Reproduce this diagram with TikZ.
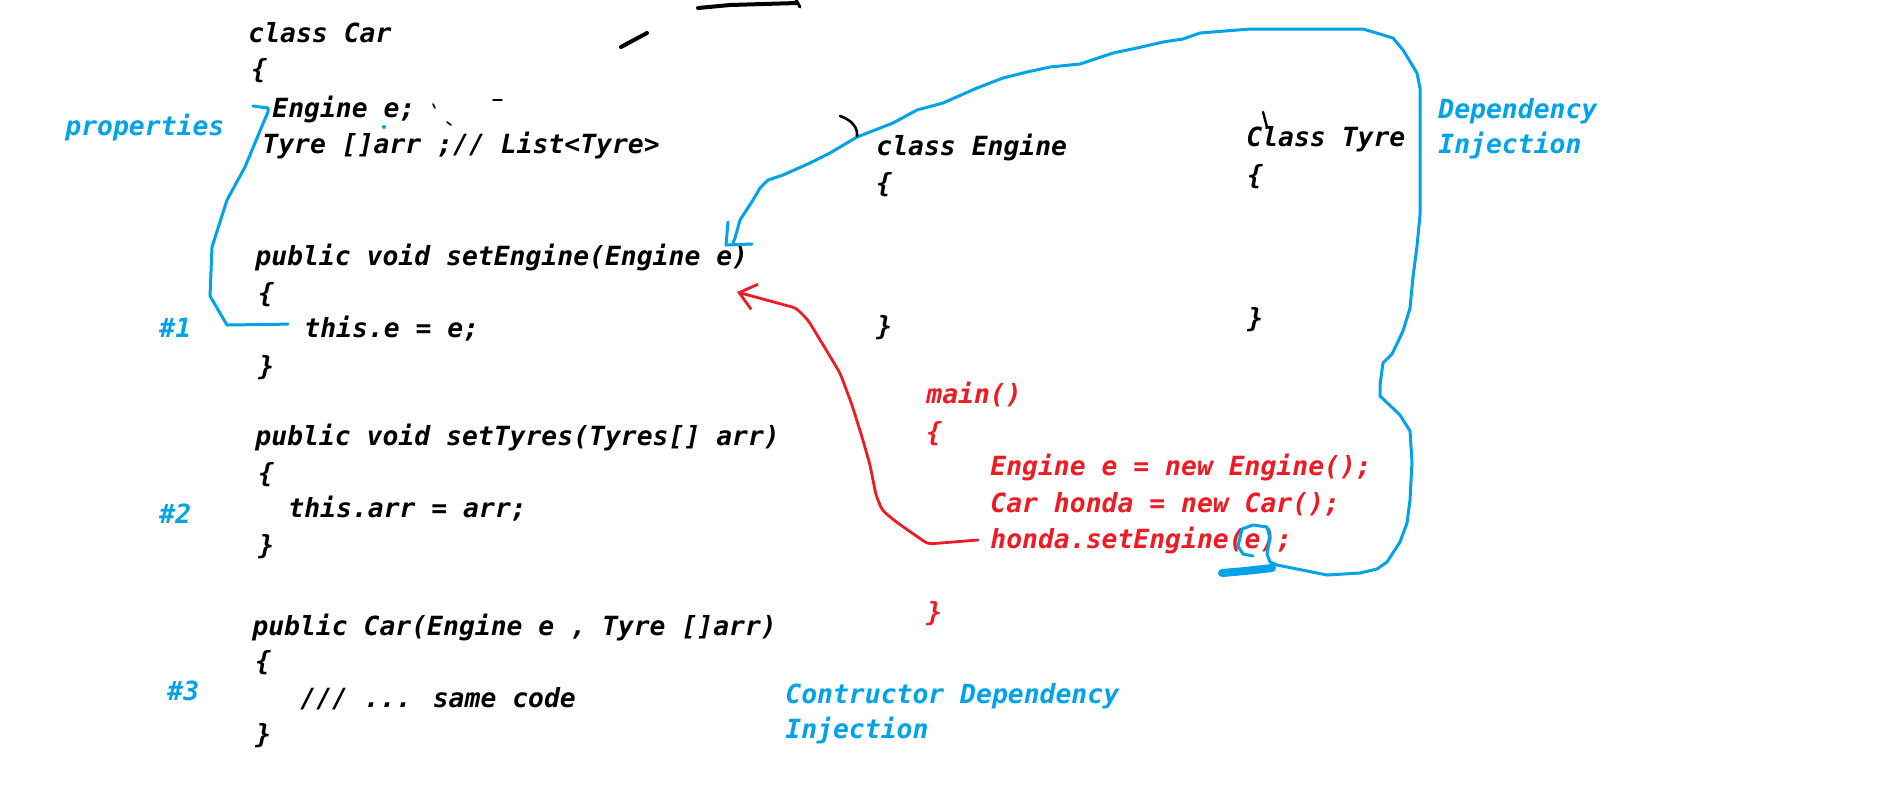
\documentclass[tikz,border=0pt]{standalone}
\usepackage{fontspec}
\newfontfamily\codefont{DejaVu Sans Mono Bold Oblique}
\usetikzlibrary{arrows.meta,calc}
\definecolor{PaintBlue}{RGB}{0,162,232}
\definecolor{PaintRed}{RGB}{237,28,36}
\tikzset{
  code/.style={font=\codefont\fontsize{13.2}{16}\selectfont,anchor=base west,inner sep=0pt,text=black},
  redcode/.style={code,text=PaintRed},
  bluenote/.style={code,text=PaintBlue},
  bluepen/.style={draw=PaintBlue,line width=1.5pt,line join=round,line cap=round},
  redpen/.style={draw=PaintRed,line width=1.4pt,line join=round,line cap=round},
  blackpen/.style={draw=black,line width=1.5pt,line cap=round}
}
\begin{document}
\begin{tikzpicture}[x=0.5pt,y=-0.5pt]
  \useasboundingbox[fill=white] (0,0) rectangle (1900,810);
  % class Car
  \node[code] (carHead) at (248,42) {class Car};
  \node[code] (carOpen) at (251,78) {\{};
  \node[code] (engField) at (272,117) {Engine e;};
  \node[code] (tyreField) at (262,153) {Tyre []arr ;// List<Tyre>};
  \node[code] (setEng) at (255,265) {public void setEngine(Engine e)};
  \node[code] (setEngOpen) at (258,302) {\{};
  \node[code] (setEngBody) at (304,337) {this.e = e;};
  \node[code] (setEngClose) at (258,375) {\}};
  \node[code] (setTyr) at (255,445) {public void setTyres(Tyres[] arr)};
  \node[code] (setTyrOpen) at (258,482) {\{};
  \node[code] (setTyrBody) at (288,517) {this.arr = arr;};
  \node[code] (setTyrClose) at (258,554) {\}};
  \node[code] (ctor) at (252,635) {public Car(Engine e , Tyre []arr)};
  \node[code] (ctorOpen) at (255,670) {\{};
  \node[code] (ctorBody) at (300,707) {/// ... same code};
  \node[code] (ctorClose) at (255,743) {\}};
  % other classes
  \node[code] (engineHead) at (876,155) {class Engine};
  \node[code] (engineOpen) at (876,192) {\{};
  \node[code] (engineClose) at (876,335) {\}};
  \node[code] (tyreHead) at (1246,146) {Class Tyre};
  \node[code] (tyreOpen) at (1247,184) {\{};
  \node[code] (tyreClose) at (1247,327) {\}};
  % main
  \node[redcode] (mainHead) at (926,403) {main()};
  \node[redcode] (mainOpen) at (926,441) {\{};
  \node[redcode] (mainEngine) at (990,475) {Engine e = new Engine();};
  \node[redcode] (mainCar) at (990,512) {Car honda = new Car();};
  \node[redcode] (mainCall) at (990,548) {honda.setEngine(e);};
  \node[redcode] (mainClose) at (926,621) {\}};
  % notes
  \node[bluenote] (lblProps) at (65,135) {properties};
  \node[bluenote] (lblOne) at (159,337) {\#1};
  \node[bluenote] (lblTwo) at (159,523) {\#2};
  \node[bluenote] (lblThree) at (167,700) {\#3};
  \node[bluenote] (lblDIa) at (1438,118) {Dependency};
  \node[bluenote] (lblDIb) at (1438,153) {Injection};
  \node[bluenote] (lblCDIa) at (785,703) {Contructor Dependency};
  \node[bluenote] (lblCDIb) at (785,738) {Injection};

  \coordinate (propTip) at (268,112);
  \coordinate (engTip) at (737,292);
  \coordinate (eLoop) at (1253,556);
  \coordinate (setEngMark) at (733,243);

  % #1 -> property
  \draw[bluepen] ([xshift=-8pt,yshift=2pt]setEngBody.west) -- (227,325) -- (210,296) -- (212,247)
    -- (227,200) -- (245,167) -- (262,126) -- (propTip) -- (268,108) -- (253,106);
  % main -> setEngine
  \draw[redpen,rounded corners=2pt,-{Straight Barb[length=8pt,width=13pt]}] ([xshift=-6pt]mainCall.west)
    -- (928,544) -- (912,533) -- (895,521) -- (882,510) -- (876,495) -- (870,465) -- (862,437)
    -- (852,405) -- (840,373) -- (825,348) -- (808,320) -- (796,308) -- (770,301) -- (engTip);
  % injected e back to setEngine
  \draw[bluepen] (eLoop) -- (1243,554) -- (1238,546) -- (1242,529) -- (1253,525) -- (1267,527)
    -- (1270,538) -- (1267,554) -- (1270,562) -- (1277,565) -- (1297,569) -- (1327,575) -- (1360,573)
    -- (1377,569) -- (1387,562) -- (1400,542) -- (1407,523) -- (1410,500) -- (1412,462) -- (1410,431)
    -- (1400,415) -- (1380,396) -- (1380,385) -- (1383,363) -- (1392,354) -- (1403,331) -- (1410,308)
    -- (1413,277) -- (1417,246) -- (1420,215) -- (1420,88) -- (1417,73) -- (1403,50) -- (1393,38)
    -- (1363,29) -- (1250,29) -- (1200,33) -- (1183,39) -- (1163,42) -- (1137,48) -- (1113,53)
    -- (1080,64) -- (1050,67) -- (1027,72) -- (1003,78) -- (977,88) -- (943,103) -- (917,110)
    -- (893,123) -- (857,137) -- (830,153) -- (810,163) -- (783,175) -- (768,180) -- (760,188)
    -- (753,200) -- (740,220) -- (735,238) -- (setEngMark);
  \draw[bluepen] (728,222) -- (726,245) -- (752,244);
  \draw[PaintBlue,line width=4pt,line cap=round] (1222,573) -- (1245,571) -- (1272,568);
  \fill[PaintBlue] (384,127) circle (1pt);

  % stray pen marks
  \draw[blackpen,line width=2pt] (698,8) -- (730,5) -- (797,3);
  \draw[blackpen] (796,0) -- (800,7);
  \draw[blackpen,line width=2pt] (621,47) -- (647,33);
  \draw[blackpen,line width=1.3pt] (840,116) .. controls (852,120) and (858,128) .. (857,136);
  \draw[blackpen,line width=1.2pt] (1263,112) -- (1267,127);
  \draw[blackpen,line width=0.8pt] (433,104) -- (435,108);
  \draw[blackpen,line width=0.8pt] (447,122) -- (451,125);
  \draw[blackpen,line width=0.8pt] (493,100) -- (502,100);
\end{tikzpicture}
\end{document}
